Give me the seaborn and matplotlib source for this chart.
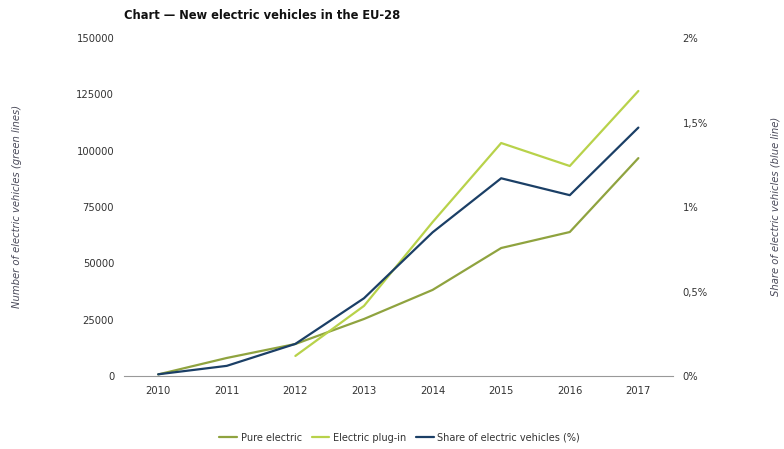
import pandas as pd
import matplotlib.pyplot as plt
import seaborn as sns
from matplotlib.ticker import FuncFormatter

years = [2010, 2011, 2012, 2013, 2014, 2015, 2016, 2017]
pure_electric = [700, 8000, 14200, 25300, 38200, 56800, 63900, 96700]
plug_in = [None, None, 8900, 31100, 68300, 103400, 93200, 126500]
share_pct = [0.01, 0.06, 0.19, 0.46, 0.85, 1.17, 1.07, 1.47]

data = pd.DataFrame({"year": years, "pure": pure_electric,
                     "plugin": plug_in, "share": share_pct})

sns.set_style("white")
plt.rcParams["font.family"] = ["DejaVu Sans"]

text_col = "#333333"
olive = "#8fa33f"
light = "#b8d24a"
navy = "#1b3f66"

fig = plt.figure(figsize=(7.84, 4.49), dpi=100)
ax = fig.add_axes([0.158, 0.1626, 0.7, 0.7527])
ax2 = ax.twinx()

sns.lineplot(data=data, x="year", y="pure", ax=ax, color=olive, lw=1.6, label="Pure electric", legend=False)
sns.lineplot(data=data, x="year", y="plugin", ax=ax, color=light, lw=1.6, label="Electric plug-in", legend=False)
sns.lineplot(data=data, x="year", y="share", ax=ax2, color=navy, lw=1.6, label="Share of electric vehicles (%)", legend=False)

ax.set_xlim(2009.5, 2017.5)
ax.set_ylim(0, 150000)
ax2.set_ylim(0, 2)
ax.set_xticks(years)
ax.set_yticks([0, 25000, 50000, 75000, 100000, 125000, 150000])
ax2.set_yticks([0, 0.5, 1, 1.5, 2])
ax2.yaxis.set_major_formatter(FuncFormatter(lambda v, p: (f"{v:g}".replace(".", ",")) + "%"))

for a in (ax, ax2):
    for s in a.spines.values():
        s.set_visible(False)
    a.tick_params(length=0, labelsize=7.2, colors=text_col)
ax.spines["bottom"].set_visible(True)
ax.spines["bottom"].set_color("#999999")
ax.tick_params(axis="y", pad=7)
ax.tick_params(axis="x", pad=7)
ax2.tick_params(axis="y", pad=7)

ax.set_xlabel("")
ax.set_ylabel("")
ax2.set_ylabel("")
fig.text(17 / 784, 0.5 + 0.04, "Number of electric vehicles (green lines)", fontsize=7.2, style="italic",
         color="#4a4a5a", rotation=90, ha="center", va="center")
fig.text(776 / 784, 0.5 + 0.04, "Share of electric vehicles (blue line)", fontsize=7.2, style="italic",
         color="#4a4a5a", rotation=90, ha="center", va="center")

fig.text(0.158, 0.965, "Chart \u2014 New electric vehicles in the EU-28", fontsize=8.3, fontweight="bold", color="#111111", va="center")

handles = ax.get_lines()[:2] + ax2.get_lines()[:1]
fig.legend(handles, [h.get_label() for h in handles], loc="center", bbox_to_anchor=(0.51, 0.025),
           ncol=3, frameon=False, fontsize=7, handlelength=1.8, handletextpad=0.4,
           columnspacing=1.0, labelcolor=text_col)

fig.savefig("out.png", dpi=100)
